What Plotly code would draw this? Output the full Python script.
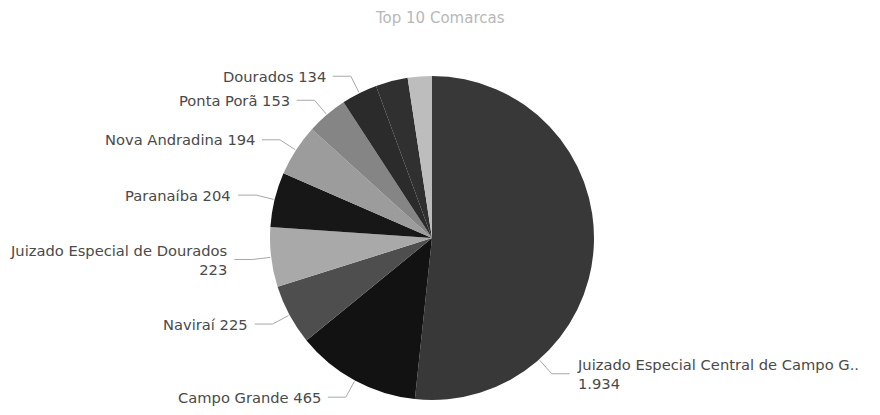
import math
import plotly.graph_objects as go

# ---------------- data ----------------
title_text = "Top 10 Comarcas"
comarcas = [
    "Juizado Especial Central de Campo Grande",
    "Campo Grande",
    "Naviraí",
    "Juizado Especial de Dourados",
    "Paranaíba",
    "Nova Andradina",
    "Ponta Porã",
    "Dourados",
    "9ª comarca",
    "10ª comarca",
]
processos = [1934, 465, 225, 223, 204, 194, 153, 134, 120, 90]
show_label = [True, True, True, True, True, True, True, True, False, False]

# ---------------- style / layout ----------------
PAGE_W, PAGE_H = 880, 415
OFF = 8                               # browser default body margin
W, H = PAGE_W - OFF, PAGE_H - OFF     # figure size
CX, CY, R = 432 - OFF, 238 - OFF, 162  # pie centre / radius (figure px)
colors = ["#383838", "#121212", "#4e4e4e", "#a9a9a9", "#171717",
          "#9c9c9c", "#858585", "#2b2b2b", "#303030", "#bdbdbd"]
LEAD_R = 181       # radius where leader bends
HSEG = 18          # horizontal leader length
GAP = 5            # gap between leader and text
label_angle_override = {0: 138.6}   # Power BI moved the big slice's label
FONT = "DejaVu Sans"


def fmt_br(v):
    return f"{v:,}".replace(",", ".")


def short(name, n=35):
    return name if len(name) <= n + 2 else name[:n] + ".."


def paper(x, y):
    return x / W, 1 - y / H


fig = go.Figure()
fig.add_trace(go.Pie(
    labels=comarcas,
    values=processos,
    sort=False,
    direction="clockwise",
    rotation=0,
    marker=dict(colors=colors, line=dict(width=0)),
    textinfo="none",
    hoverinfo="label+value",
    showlegend=False,
    domain=dict(x=[(CX - R) / W, (CX + R) / W],
                y=[1 - (CY + R) / H, 1 - (CY - R) / H]),
))

total = sum(processos)
cum = 0
shapes = []
annotations = []
for i, (name, v) in enumerate(zip(comarcas, processos)):
    start = cum / total * 360
    cum += v
    end = cum / total * 360
    if not show_label[i]:
        continue
    phi = label_angle_override.get(i, (start + end) / 2)
    s, c = math.sin(math.radians(phi)), math.cos(math.radians(phi))
    x0, y0 = CX + (R + 1) * s, CY - (R + 1) * c
    x1, y1 = CX + LEAD_R * s, CY - LEAD_R * c
    side = 1 if s >= 0 else -1
    x2 = x1 + side * HSEG
    for (ax, ay, bx, by) in [(x0, y0, x1, y1), (x1, y1, x2, y1)]:
        pa = paper(ax, ay)
        pb = paper(bx, by)
        shapes.append(dict(type="line", xref="paper", yref="paper",
                           x0=pa[0], y0=pa[1], x1=pb[0], y1=pb[1],
                           line=dict(color="#a8a8a8", width=1)))
    nm = short(name)
    if len(nm) > 20:
        txt = f"{nm}<br>{fmt_br(v)}"
    else:
        txt = f"{nm} {fmt_br(v)}"
    tx, ty = paper(x2 + side * GAP, y1)
    annotations.append(dict(
        x=tx, y=ty, xref="paper", yref="paper", text=txt, showarrow=False,
        xanchor="left" if side > 0 else "right", yanchor="middle",
        align="left" if side > 0 else "right",
        font=dict(family=FONT, size=14.7, color="#4a4a4a"),
    ))

annotations.append(dict(
    x=(440 - OFF) / W, y=1 - (18 - OFF) / H, xref="paper", yref="paper",
    text=title_text, showarrow=False, xanchor="center", yanchor="middle",
    font=dict(family=FONT, size=15, color="#b8b8b8"),
))

fig.update_layout(
    width=W, height=H,
    margin=dict(l=0, r=0, t=0, b=0),
    paper_bgcolor="white", plot_bgcolor="white",
    shapes=shapes, annotations=annotations,
)

fig.write_html("out.html")
